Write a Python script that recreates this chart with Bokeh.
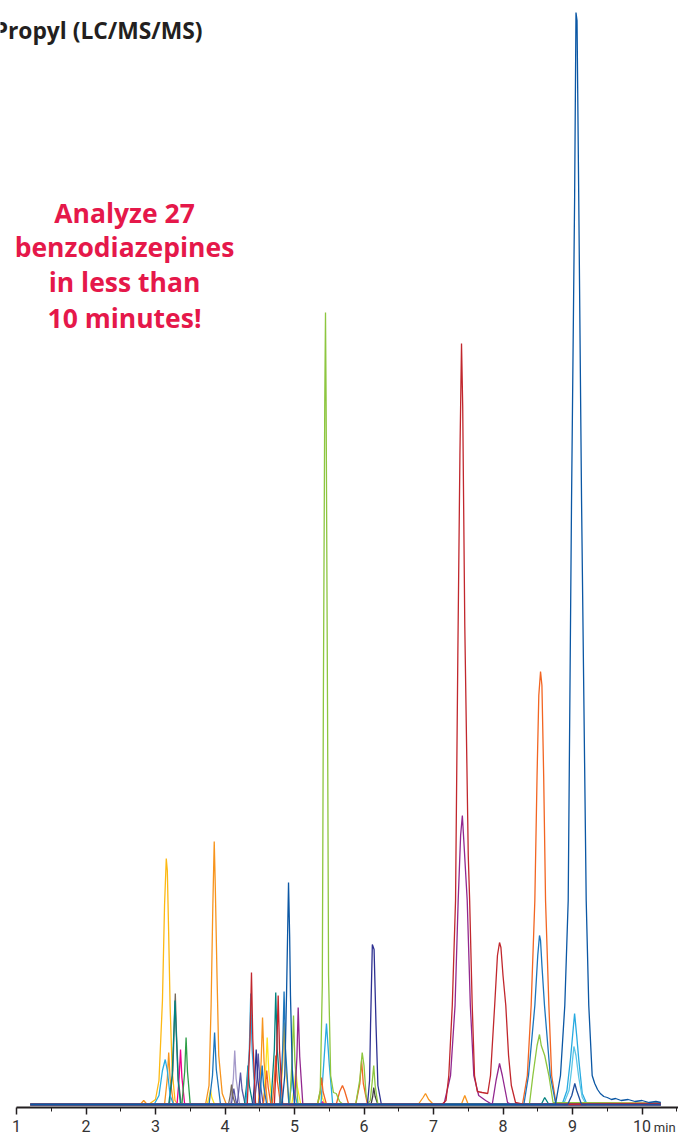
from bokeh.plotting import figure
from bokeh.models import LinearAxis, FixedTicker, Label
from bokeh.embed import file_html
from bokeh.resources import INLINE

# ---- data: retention time (min) / abundance (arbitrary units) vertices ----
GOLD_T = [1.2, 2.90, 3.00, 3.05, 3.10, 3.13, 3.155, 3.17, 3.19, 3.21, 3.24, 3.28, 3.32, 4.79, 4.83, 4.85, 4.872, 4.92, 10.27]
GOLD_V = [1, 1, 6, 25, 105, 200, 247, 235, 170, 100, 35, 5, 1, 1, 42, 83, 42, 1, 2]

ORANGE_T = [1.2, 2.78, 2.83, 2.88, 3.13, 3.17, 3.19, 3.21, 3.26, 3.72, 3.77, 3.80, 3.825, 3.845, 3.86, 3.885, 3.91, 3.96, 4.02,
            4.48, 4.52, 4.54, 4.562, 4.61, 6.78, 6.85, 6.885, 6.93, 7.0, 7.40, 7.45, 7.50, 10.27]
ORANGE_V = [1, 1, 5, 1, 1, 27, 53, 27, 1, 1, 20, 100, 200, 264, 220, 130, 50, 12, 1,
            1, 44, 88, 44, 1, 1, 8, 12, 6, 1, 1, 10, 1, 2]

ORANGE2_T = [1.2, 4.55, 4.58, 4.60, 4.622, 4.66, 4.68, 4.71, 4.73, 4.752, 4.80, 5.33, 5.37, 5.39, 5.41, 5.46,
             5.60, 5.65, 5.69, 5.72, 5.78, 5.88, 5.94, 5.965, 5.99, 6.05,
             8.28, 8.35, 8.405, 8.458, 8.49, 8.515, 8.54, 8.56, 8.585, 8.612, 8.66, 8.70, 8.76, 10.27]
ORANGE2_V = [1, 1, 18, 35, 18, 1, 1, 25, 50, 25, 1, 1, 14, 28, 14, 1,
             1, 14, 20, 15, 1, 1, 22, 45, 22, 1,
             1, 30, 100, 205, 330, 410, 434, 420, 330, 205, 100, 30, 3, 2]

LIGHTBLUE_T = [1.2, 2.98, 3.05, 3.10, 3.14, 3.17, 3.21, 3.26, 4.30, 4.35, 4.37, 4.39, 4.44, 4.92, 4.95, 4.97, 4.99, 5.04,
               5.38, 5.42, 5.46, 5.50, 5.55, 8.85, 8.92, 8.97, 9.03, 9.06, 9.09, 9.14, 9.21, 10.27]
LIGHTBLUE_V = [1, 1, 10, 35, 46, 35, 10, 1, 1, 56, 112, 56, 1, 1, 17, 35, 17, 1,
               1, 41, 82, 41, 1, 1, 15, 46, 92, 70, 46, 12, 1, 2]

CYAN_T = [1.2, 8.87, 8.95, 8.985, 9.02, 9.05, 9.09, 9.14, 9.20, 10.27]
CYAN_V = [1, 1, 15, 35, 59, 50, 28, 8, 1, 1]

TEAL_T = [1.2, 3.19, 3.24, 3.265, 3.28, 3.30, 3.325, 3.36, 4.28, 4.31, 4.33, 4.35, 4.40, 4.66, 4.71, 4.73, 4.752, 4.81,
          8.55, 8.60, 8.66, 10.27]
TEAL_V = [1, 1, 30, 75, 105, 70, 25, 1, 1, 20, 40, 20, 1, 1, 56, 113, 56, 1, 1, 8, 1, 1]

BROWN_T = [1.2, 3.20, 3.25, 3.27, 3.285, 3.30, 3.33, 3.37, 4.05, 4.075, 4.094, 4.11, 4.15, 10.27]
BROWN_V = [1, 1, 35, 80, 112, 75, 25, 1, 1, 10, 21, 10, 1, 1]

GRAY_T = [1.2, 6.10, 6.125, 6.14, 6.16, 6.20, 10.27]
GRAY_V = [1, 1, 9, 18, 9, 1, 1]

MAGENTA_T = [1.2, 3.31, 3.34, 3.36, 3.38, 3.42, 5.37, 5.40, 5.43, 10.27]
MAGENTA_V = [1, 1, 28, 56, 28, 1, 1, 4, 1, 1]

GREEN_T = [1.2, 3.38, 3.42, 3.44, 3.46, 3.50, 10.27]
GREEN_V = [1, 1, 34, 68, 34, 1, 1]

BLUE_T = [1.2, 3.77, 3.82, 3.85, 3.875, 3.935, 4.49, 4.515, 4.535, 4.555, 4.60, 4.79, 4.83, 4.85, 4.87, 4.92,
          8.30, 8.367, 8.458, 8.50, 8.525, 8.54, 8.56, 8.597, 8.68, 8.76, 10.27]
BLUE_V = [1, 1, 30, 73, 36, 1, 1, 20, 40, 20, 1, 1, 57, 114, 57, 1,
          1, 30, 100, 150, 170, 165, 140, 100, 30, 1, 2]

LAVENDER_T = [1.2, 4.08, 4.12, 4.14, 4.16, 4.21, 10.27]
LAVENDER_V = [1, 1, 27, 55, 27, 1, 1]

SLATE_T = [1.2, 4.09, 4.11, 4.127, 4.145, 4.165, 4.175, 4.20, 4.223, 4.245, 4.29, 4.42, 4.46, 4.478, 4.50, 4.55, 10.27]
SLATE_V = [1, 1, 9, 17, 9, 2, 1, 16, 33, 16, 1, 1, 26, 52, 26, 1, 1]

RED_T = [1.2, 4.32, 4.36, 4.381, 4.40, 4.44, 4.71, 4.745, 4.765, 4.785, 4.83,
         7.12, 7.18, 7.22, 7.27, 7.317, 7.35, 7.38, 7.403, 7.42, 7.45, 7.50, 7.52, 7.557, 7.59, 7.63, 7.70, 7.78,
         7.82, 7.88, 7.92, 7.95, 7.97, 8.00, 8.04, 8.08, 8.12, 8.18, 8.30, 10.27]
RED_V = [1, 1, 66, 133, 66, 1, 1, 55, 110, 55, 1,
         1, 5, 30, 100, 205, 450, 650, 762, 700, 480, 250, 205, 100, 30, 14, 13, 12,
         30, 100, 150, 163, 158, 130, 100, 50, 20, 3, 1, 2]

INDIGO_T = [1.2, 4.40, 4.43, 4.449, 4.47, 4.51, 6.05, 6.08, 6.094, 6.12, 6.145, 6.173, 6.20, 6.25, 10.27]
INDIGO_V = [1, 1, 28, 56, 28, 1, 1, 25, 80, 161, 156, 80, 20, 1, 1]

YELLOW_T = [1.2, 3.74, 3.77, 3.79, 3.81, 3.85, 4.55, 4.585, 4.607, 4.63, 4.68, 4.96, 5.0, 5.018, 5.04, 5.09,
            5.33, 5.36, 5.38, 5.40, 5.44, 10.27]
YELLOW_V = [1, 1, 8, 16, 8, 1, 1, 34, 68, 34, 1, 1, 19, 38, 19, 1, 1, 8, 15, 8, 1, 1]

DARKBLUE_T = [1.2, 4.82, 4.86, 4.885, 4.914, 4.93, 4.942, 4.97, 5.0,
              8.755, 8.827, 8.889, 8.938, 8.986, 9.03, 9.05, 9.065, 9.09, 9.13, 9.197, 9.234, 9.283,
              9.32, 9.36, 9.40, 9.45, 9.50, 9.56, 9.62, 9.70, 9.80, 9.90, 10.0, 10.1, 10.2, 10.27]
DARKBLUE_V = [1, 1, 30, 110, 223, 170, 110, 30, 1,
              1, 30, 100, 205, 605, 905, 1093, 1085, 905, 605, 205, 100, 30,
              22, 16, 12, 9, 8, 6, 7, 5, 6, 4, 5, 3, 4, 3]

NAVY_T = [1.2, 8.93, 8.99, 9.033, 9.06, 9.13, 10.27]
NAVY_V = [1, 1, 10, 22, 15, 1, 1]

LIGHTGREEN_T = [1.2, 4.93, 4.965, 4.986, 5.005, 5.05,
                5.33, 5.37, 5.40, 5.415, 5.435, 5.446, 5.455, 5.475, 5.49, 5.52, 5.56, 5.60, 5.65, 5.70,
                5.88, 5.94, 5.974, 6.00, 6.03, 6.06, 6.09, 6.12, 6.14, 6.16, 6.20,
                8.38, 8.43, 8.49, 8.525, 8.55, 8.60, 8.66, 8.72, 10.27]
LIGHTGREEN_V = [1, 1, 45, 90, 45, 1,
                1, 15, 120, 400, 700, 793, 700, 400, 130, 30, 13, 12, 4, 1,
                1, 26, 53, 40, 10, 2, 5, 25, 40, 20, 1,
                1, 30, 60, 71, 60, 50, 30, 3, 2]

PURPLE_T = [1.2, 5.00, 5.035, 5.053, 5.075, 5.12,
            7.15, 7.245, 7.31, 7.355, 7.39, 7.415, 7.44, 7.485, 7.53, 7.58, 7.65, 7.75, 7.845, 7.90, 7.95, 7.99, 8.065, 8.12, 10.27]
PURPLE_V = [1, 1, 49, 98, 49, 1,
            1, 30, 100, 205, 270, 290, 260, 205, 100, 30, 10, 5, 1, 25, 42, 30, 3, 1, 1]

TRACES = [
    (GOLD_T, GOLD_V, "#FDB913"),
    (ORANGE_T, ORANGE_V, "#F7941D"),
    (YELLOW_T, YELLOW_V, "#FFE21F"),
    (LAVENDER_T, LAVENDER_V, "#A59ACA"),
    (SLATE_T, SLATE_V, "#5B57A6"),
    (BROWN_T, BROWN_V, "#766A5C"),
    (GRAY_T, GRAY_V, "#414042"),
    (MAGENTA_T, MAGENTA_V, "#EC008C"),
    (GREEN_T, GREEN_V, "#2E9E48"),
    (TEAL_T, TEAL_V, "#00827F"),
    (LIGHTBLUE_T, LIGHTBLUE_V, "#27AAE1"),
    (CYAN_T, CYAN_V, "#5CC6E6"),
    (ORANGE2_T, ORANGE2_V, "#F26522"),
    (LIGHTGREEN_T, LIGHTGREEN_V, "#8DC63F"),
    (BLUE_T, BLUE_V, "#1C75BC"),
    (INDIGO_T, INDIGO_V, "#2E3192"),
    (PURPLE_T, PURPLE_V, "#92278F"),
    (RED_T, RED_V, "#C1272D"),
    (NAVY_T, NAVY_V, "#1F4E9E"),
    (DARKBLUE_T, DARKBLUE_V, "#0B57A4"),
]

MAJOR_TICKS = [1, 2, 3, 4, 5, 6, 7, 8, 9, 10]
MINOR_TICKS = [1.5, 2.5, 3.5, 4.5, 5.5, 6.5, 7.5, 8.5, 9.5, 10.5]
TICK_LABELS = ["1", "2", "3", "4", "5", "6", "7", "8", "9", "10"]
UNIT = "min"
TITLE = "Propyl (LC/MS/MS)"
CALLOUT = ["Analyze 27", "benzodiazepines", "in less than", "10 minutes!"]

X_START, X_END = 1.0, 10.525

p = figure(width=678, height=1135, x_range=(0.7698, X_END), y_range=(-30, 1105),
           toolbar_location=None, output_backend="svg",
           x_axis_location=None, y_axis_location=None,
           min_border_left=0, min_border_right=0, min_border_top=0, min_border_bottom=0)
p.outline_line_color = None
p.xgrid.visible = False
p.ygrid.visible = False
p.background_fill_color = "white"
p.border_fill_color = "white"

for t, v, c in TRACES:
    p.line(t, v, line_color=c, line_width=1.3)

ax = LinearAxis(ticker=FixedTicker(ticks=MAJOR_TICKS, minor_ticks=MINOR_TICKS),
                fixed_location=-2, bounds=(X_START, X_END))
ax.axis_line_color = "#231F20"
ax.axis_line_width = 2
ax.major_tick_line_color = "#231F20"
ax.major_tick_line_width = 1.5
ax.major_tick_in = 0
ax.major_tick_out = 7
ax.minor_tick_line_color = "#231F20"
ax.minor_tick_line_width = 1
ax.minor_tick_in = 0
ax.minor_tick_out = 4
ax.major_label_overrides = dict(zip(MAJOR_TICKS, TICK_LABELS))
ax.major_label_text_font = "Roboto"
ax.major_label_text_font_size = "16px"
ax.major_label_text_color = "#333333"
ax.major_label_standoff = 5
p.add_layout(ax, "below")

p.add_layout(Label(x=10.17, y=-22, text=UNIT, text_align="left", text_baseline="alphabetic",
                   text_font="Roboto", text_font_size="13px", text_color="#333333"))

p.add_layout(Label(x=3.676, y=1075, text=TITLE, text_align="right", text_baseline="alphabetic",
                   text_font="Open Sans", text_font_style="bold", text_font_size="22.8px",
                   text_color="#231F20"))

for line_text, yb in zip(CALLOUT, [893, 859, 824, 788]):
    p.add_layout(Label(x=2.554, y=yb, text=line_text, text_align="center", text_baseline="alphabetic",
                       text_font="Open Sans", text_font_style="bold", text_font_size="26.5px",
                       text_color="#E5184A"))

open("out.html", "w").write(file_html(p, INLINE))
